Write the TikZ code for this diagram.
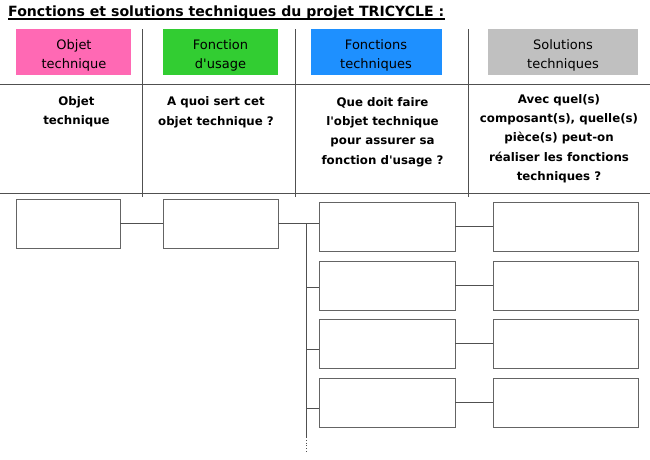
\documentclass[tikz,border=0pt]{standalone}
\usepackage{fontspec}
\setmainfont{DejaVu Sans}[Ligatures=TeXOff]
\usetikzlibrary{calc}
\definecolor{cpink}{RGB}{255,105,180}
\definecolor{cgreen}{RGB}{50,205,50}
\definecolor{cblue}{RGB}{30,144,255}
\definecolor{cgray}{RGB}{192,192,192}
\definecolor{cline}{RGB}{80,80,80}
\definecolor{cbox}{RGB}{100,100,100}
\tikzset{
  headbox/.style={rectangle, inner sep=0pt, minimum width=#1, minimum height=46pt},
  headtext/.style={anchor=north, inner sep=0pt, align=center,
    font=\fontsize{13}{19}\selectfont},
  rowtext/.style={anchor=north, inner sep=0pt, align=center,
    font=\fontsize{11.8}{19.4}\selectfont\bfseries},
  emptybox/.style={rectangle, draw=cbox, line width=0.9pt, inner sep=0pt, minimum width=#1, minimum height=49pt},
  tableline/.style={draw=cline, line width=0.8pt},
  link/.style={draw=cline, line width=0.8pt},
}
\begin{document}
\begin{tikzpicture}[x=1pt,y=-1pt]
\useasboundingbox (0,0) rectangle (650,459);
\fill[white] (0,0) rectangle (650,459);
% title
\node[anchor=base west, inner sep=0pt, font=\fontsize{14.1}{17}\selectfont\bfseries] (title) at (8,16.5)
  {Fonctions et solutions techniques du projet TRICYCLE :};
\draw[line width=1.2pt] ($(title.base west)+(0,2.4)$) -- ($(title.base east)+(0,2.4)$);
% table lines
\draw[tableline] (0,84) -- (650,84);
\draw[tableline] (0,193) -- (650,193);
\draw[tableline] (142,29) -- (142,197);
\draw[tableline] (295,29) -- (295,197);
\draw[tableline] (468,29) -- (468,197);
% header boxes
\node[headbox=115pt, fill=cpink] (h1) at (73.5,52) {};
\node[headbox=115pt, fill=cgreen] (h2) at (220.5,52) {};
\node[headbox=131pt, fill=cblue] (h3) at (376.5,52) {};
\node[headbox=150pt, fill=cgray] (h4) at (563,52) {};
\node[headtext] (ht1) at (74,39.3) {Objet\\technique};
\node[headtext] (ht2) at (220.5,39.3) {Fonction\\d'usage};
\node[headtext] (ht3) at (376,39.3) {Fonctions\\techniques};
\node[headtext] (ht4) at (563,39.3) {Solutions\\techniques};
% row texts
\node[rowtext] (t1) at (76.5,96) {Objet\\technique};
\node[rowtext] (t2) at (216,96.5) {A quoi sert cet\\objet technique ?};
\node[rowtext] (t3) at (382.5,97) {Que doit faire\\l'objet technique\\pour assurer sa\\fonction d'usage ?};
\node[rowtext] (t4) at (559,94) {Avec quel(s)\\composant(s), quelle(s)\\pièce(s) peut-on\\réaliser les fonctions\\techniques ?};
% boxes
\node[emptybox=104pt] (A) at (68,223.5) {};
\node[emptybox=115pt] (B) at (220.5,223.5) {};
\node[emptybox=136pt] (F1) at (387,226.5) {};
\node[emptybox=136pt] (F2) at (387,285.5) {};
\node[emptybox=136pt] (F3) at (387,343.5) {};
\node[emptybox=136pt] (F4) at (387,402.5) {};
\node[emptybox=145pt] (S1) at (565.5,226.5) {};
\node[emptybox=145pt] (S2) at (565.5,285.5) {};
\node[emptybox=145pt] (S3) at (565.5,343.5) {};
\node[emptybox=145pt] (S4) at (565.5,402.5) {};
% bus coordinates
\coordinate (b2) at (306,287);
\coordinate (b3) at (306,349);
\coordinate (b4) at (306,408);
\coordinate (bend) at (306,437);
\coordinate (bdot) at (306,453);
% connectors
\draw[link] (A.east) -- (B.west);
\draw[link] (B.east) -- (B.east -| F1.west);
\draw[link] (B.east -| b2) -- (bend);
\draw[link, dotted] (bend) -- (bdot);
\draw[link] (b2) -- (b2 -| F2.west);
\draw[link] (b3) -- (b3 -| F3.west);
\draw[link] (b4) -- (b4 -| F4.west);
\draw[link] (F1.east) -- (S1.west);
\draw[link] (F2.east) -- (S2.west);
\draw[link] (F3.east) -- (S3.west);
\draw[link] (F4.east) -- (S4.west);
\end{tikzpicture}
\end{document}
